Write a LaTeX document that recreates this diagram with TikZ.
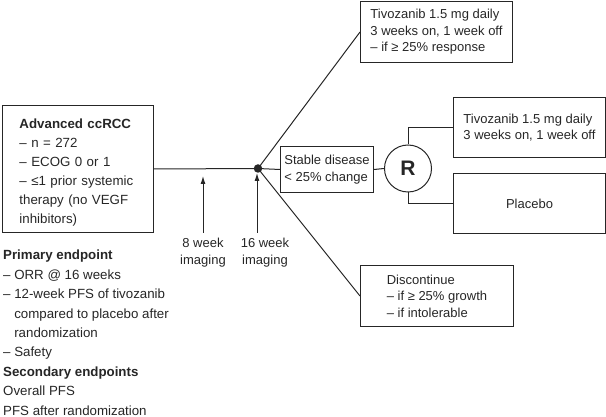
\documentclass[tikz,border=0pt]{standalone}
\usepackage{fontspec}
\setmainfont{Liberation Sans}
\usetikzlibrary{arrows.meta}
\definecolor{ink}{HTML}{262626}
\begin{document}
\begin{tikzpicture}[x=1pt,y=-1pt,
  conn/.style={line width=1pt, draw=ink},
  txt/.style={font=\fontsize{13}{16.5}\selectfont, text=ink},
  boxnode/.style={txt, draw=ink, line width=1pt, rectangle, inner sep=0pt, align=left},
  arr/.style={conn, -{Latex[length=8pt,width=5pt]}}]
\useasboundingbox (0,0) rectangle (606,417);
% left box
\node[boxnode, anchor=north west, minimum width=151pt, minimum height=127pt, text width=117pt, inner xsep=17pt,
  font=\fontsize{13.3}{19}\selectfont] (adv) at (2,105)
  {\rule{0pt}{16pt}\textbf{Advanced ccRCC}\\– n = 272\\– ECOG 0 or 1\\– ≤1 prior systemic\\therapy (no VEGF\\inhibitors)};
% junction dot
\node[circle, fill=ink, inner sep=0pt, minimum size=8.5pt] (dot) at (258,168.5) {};
% right boxes
\node[boxnode, anchor=north west, minimum width=152pt, minimum height=61pt] (top) at (360,1)
  {Tivozanib 1.5 mg daily\\3 weeks on, 1 week off\\– if ≥ 25\% response};
\node[boxnode, anchor=north west, minimum width=93pt, minimum height=46pt] (stable) at (280,146)
  {Stable disease\\< 25\% change};
\node[circle, draw=ink, line width=1pt, minimum size=47pt, inner sep=0pt, font=\fontsize{21}{21}\selectfont\bfseries, text=ink] (R) at (408,168.5) {R};
\node[boxnode, anchor=north west, minimum width=152pt, minimum height=60pt] (mid) at (453,97)
  {Tivozanib 1.5 mg daily\\3 weeks on, 1 week off};
\node[boxnode, anchor=north west, minimum width=152pt, minimum height=60pt, align=center] (plac) at (453,173)
  {Placebo};
\node[boxnode, anchor=north west, minimum width=153pt, minimum height=61pt] (disc) at (360,265)
  {Discontinue\\– if ≥ 25\% growth\\– if intolerable};
% connectors
\draw[conn] (adv.east) -- (dot.center);
\draw[conn] (dot.center) -- (top.west);
\draw[conn] (dot.center) -- (disc.west);
\draw[conn] (dot.center) -- (stable.west);
\draw[conn] (stable.east) -- (R.west);
\draw[conn] (R.north) |- (mid.west);
\draw[conn] (R.south) |- (plac.west);
% imaging arrows
\coordinate (b8) at (203,233);
\coordinate (t8) at (203,176);
\coordinate (b16) at (257,233);
\coordinate (t16) at (257,173);
\draw[arr] (b8) -- (t8);
\draw[arr] (b16) -- (t16);
\node[txt, align=center, font=\fontsize{13}{17}\selectfont] (l8) at (203,252.5) {8 week\\imaging};
\node[txt, align=center, font=\fontsize{13}{17}\selectfont] (l16) at (265,252.5) {16 week\\imaging};
% endpoints
\node[txt, align=left, anchor=north west, inner sep=0pt, font=\fontsize{13.3}{19.4}\selectfont] (endp) at (3,250)
  {\textbf{Primary endpoint}\\– ORR @ 16 weeks\\– 12-week PFS of tivozanib\\\phantom{– }compared to placebo after\\\phantom{– }randomization\\– Safety\\\textbf{Secondary endpoints}\\Overall PFS\\PFS after randomization};
\end{tikzpicture}
\end{document}
